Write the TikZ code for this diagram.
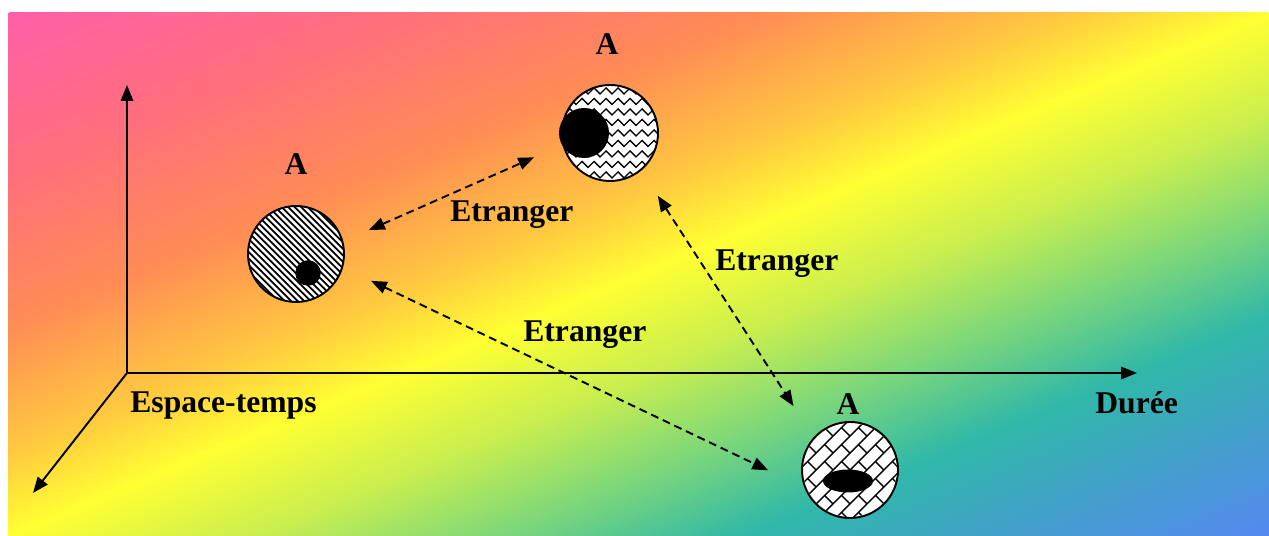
\documentclass[tikz,border=0pt]{standalone}
\usepackage{fontspec}
\setmainfont{Liberation Serif}
\usetikzlibrary{arrows.meta, positioning, calc, decorations.pathmorphing}

\definecolor{bgpink}{RGB}{255, 95, 168}
\definecolor{bgsalmon}{RGB}{255, 110, 125}
\definecolor{bgorange}{RGB}{255, 140, 85}
\definecolor{bgamber}{RGB}{255, 200, 64}
\definecolor{bgyellow}{RGB}{255, 255, 51}
\definecolor{bglime}{RGB}{200, 238, 80}
\definecolor{bggreen}{RGB}{128, 216, 120}
\definecolor{bgteal}{RGB}{48, 184, 168}
\definecolor{bgsky}{RGB}{68, 158, 206}
\definecolor{bgblue}{RGB}{85, 136, 240}

\pgfdeclarehorizontalshading{rainbowbg}{100bp}{%
  color(0bp)=(bgpink); color(25bp)=(bgpink); color(32.5bp)=(bgsalmon);
  color(40bp)=(bgorange); color(46bp)=(bgamber); color(50bp)=(bgyellow);
  color(55bp)=(bglime); color(59.5bp)=(bggreen); color(64.5bp)=(bgteal);
  color(70bp)=(bgsky); color(75bp)=(bgblue); color(100bp)=(bgblue)}

\begin{document}
\begin{tikzpicture}[
  axis/.style={line width=1.1pt, -{Triangle[length=9pt,width=7pt]}},
  link/.style={line width=1.1pt, dash pattern=on 4.5pt off 2.8pt,
    {Triangle[length=9pt,width=7pt]}-{Triangle[length=9pt,width=7pt]}},
  ball/.style={circle, draw, fill=white, line width=1.1pt, minimum size=1.92cm, inner sep=0pt},
  lbl/.style={font=\fontsize{18}{20}\selectfont\bfseries, inner sep=0pt},
  hatch/.style={line width=0.8pt}
]
  \useasboundingbox (0,0) rectangle (25.38,10.72);
  \begin{scope}
    \clip (0.16,0) rectangle (25.38,10.46);
    \begin{scope}[transform canvas={cm={25.22,-10.46,25.22,10.46,(-12.45,5.23)}}]
      \shade[shading=rainbowbg] (0,0) rectangle (1,1);
    \end{scope}
  \end{scope}

  \coordinate (O) at (2.54,3.26);
  \coordinate (ytop) at (2.54,9.02);
  \coordinate (xend) at (22.74,3.26);
  \coordinate (zend) at (0.66,0.86);
  \draw[axis] (O) -- (ytop);
  \draw[axis] (O) -- (xend);
  \draw[axis] (O) -- (zend);

  \node[lbl, anchor=base west] (espace) at (2.6,2.46) {Espace-temps};
  \node[lbl, anchor=base west] (duree) at (21.9,2.44) {Durée};

  \node[ball] (c1) at (5.92,5.64) {};
  \node[ball] (c2) at (12.2,8.06) {};
  \node[ball] (c3) at (17.0,1.32) {};

  \begin{scope}
    \clip (c1) circle[radius=0.95];
    \foreach \k in {-12,...,12}
      \draw[hatch, line width=1pt] ([xshift=\k*1.3mm]c1.center) ++(-1.2,1.2) -- ++(2.4,-2.4);
  \end{scope}
  \begin{scope}
    \clip (c2) circle[radius=0.95];
    \foreach \k in {-5,...,5}
      \draw[hatch, decorate, decoration={zigzag, segment length=2.4mm, amplitude=0.6mm}]
        ([shift={(-1.1,\k*0.21)}]c2.center) -- ++(2.2,0);
  \end{scope}
  \begin{scope}
    \clip (c3) circle[radius=0.94];
    \begin{scope}[shift={(c3)}, rotate=45]
      \foreach \k in {-5,...,5} {
        \draw[hatch] (-1.3,\k*0.24) -- (1.3,\k*0.24);
        \foreach \j in {-3,...,3}
          \draw[hatch] ({\j*0.48+0.24*mod(\k+10,2)},\k*0.24) -- ++(0,0.24);
      }
    \end{scope}
  \end{scope}

  \fill ([shift={(0.24,-0.38)}]c1.center) circle[radius=0.255];
  \fill ([shift={(-0.52,0)}]c2.center) circle[radius=0.5];
  \fill ([shift={(-0.04,-0.22)}]c3.center) ellipse[x radius=0.5, y radius=0.23];

  \node[lbl, anchor=base] (a1) at (5.92,7.22) {A};
  \node[lbl, anchor=base] (a2) at (12.14,9.62) {A};
  \node[lbl, anchor=base] (a3) at (16.96,2.42) {A};

  \draw[link, shorten <=0.56cm, shorten >=0.62cm] (c1.15) -- (c2.194);
  \draw[link, shorten <=0.62cm, shorten >=0.8cm] (c1.344) -- (c3.201);
  \draw[link, shorten <=0.6cm, shorten >=0.74cm] (c2.310) -- (c3.138);

  \node[lbl, anchor=base west] (e1) at (9.0,6.28) {Etranger};
  \node[lbl, anchor=base west] (e2) at (14.3,5.3) {Etranger};
  \node[lbl, anchor=base west] (e3) at (10.46,3.88) {Etranger};
\end{tikzpicture}
\end{document}
